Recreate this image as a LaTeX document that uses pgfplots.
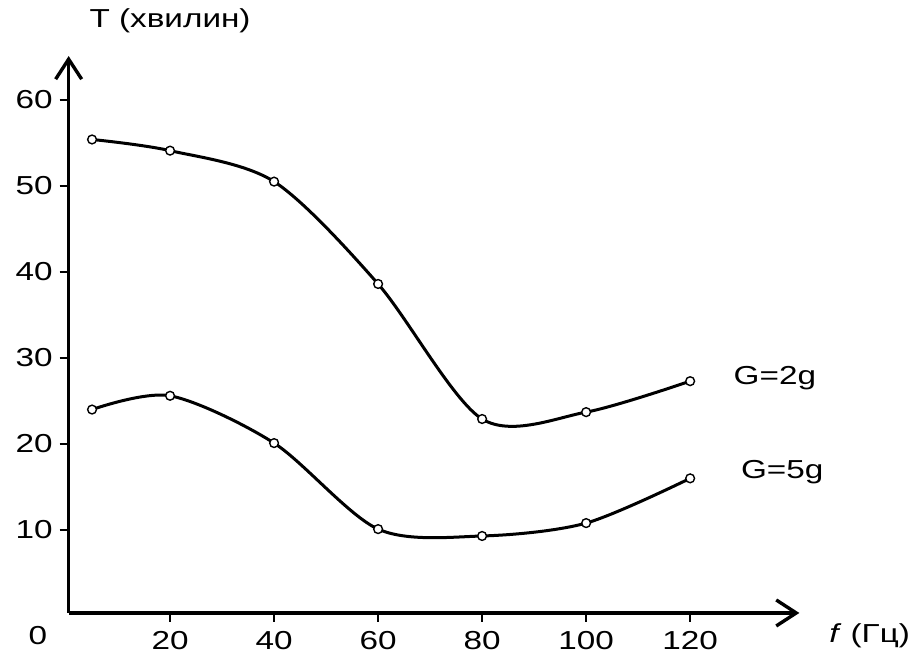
\documentclass[border=0pt]{standalone}
\usepackage{fontspec}
\setmainfont{Liberation Sans}[FakeStretch=1.28]
\usepackage{pgfplots}
\pgfplotsset{compat=1.18}
\usetikzlibrary{arrows.meta}
\begin{document}
\fontsize{13}{15}\selectfont
\begin{tikzpicture}
\begin{axis}[
  x=2.6pt, y=4.3pt,
  xmin=0.5, xmax=141, ymin=0.35, ymax=65.1,
  axis lines=left,
  axis line style={line width=1.7pt, -{Straight Barb[length=10pt,width=13pt,line width=1.7pt]}},
  xtick={20,40,...,120}, ytick={10,20,...,60},
  tick align=outside, major tick length=4.5pt,
  tick style={line width=0.8pt, black},
  /pgf/number format/assume math mode=true,
  ticklabel style={font=\fontsize{13}{15}\selectfont},
  xticklabel style={yshift=0pt},
  yticklabel style={xshift=1pt},
  clip=false,
]
\addplot[black, line width=1.5pt, smooth, mark=*, mark size=2.2pt,
  mark options={line width=0.7pt, fill=white, solid}]
  coordinates {(5,55.4) (20,54.1) (40,50.5) (60,38.6) (80,22.9) (100,23.7) (120,27.3)};
\addplot[black, line width=1.5pt, smooth, mark=*, mark size=2.2pt,
  mark options={line width=0.7pt, fill=white, solid}]
  coordinates {(5,24.0) (20,25.6) (40,20.1) (60,10.1) (80,9.3) (100,10.8) (120,16.0)};
\node at (axis cs:20,69.2) {T (хвилин)};
\node[anchor=east] at (axis cs:164,-2.3) {\textit{f} (Гц)};
\node at (axis cs:-5.4,-2.3) {0};
\node at (axis cs:136.3,27.6) {G=2g};
\node at (axis cs:137.7,16.7) {G=5g};
\path (axis cs:-12.7,-4.3) rectangle (axis cs:164.2,71.5);
\end{axis}
\end{tikzpicture}
\end{document}
